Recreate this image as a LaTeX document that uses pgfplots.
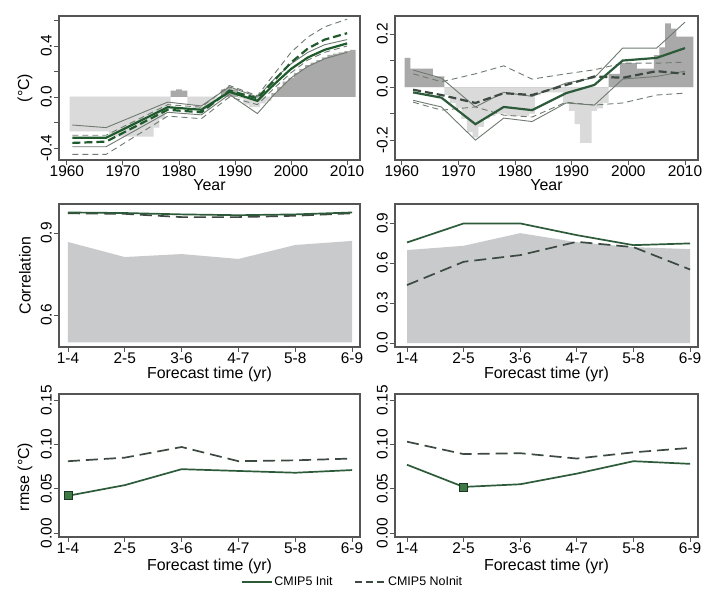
\documentclass[border=0pt]{standalone}
\usepackage{fontspec}
\setmainfont{Liberation Sans}
\usepackage{pgfplots}
\usepackage{pgfplotstable}
\pgfplotsset{compat=1.18}
\definecolor{boxcol}{HTML}{555555}
\definecolor{lightbar}{HTML}{DADADA}
\definecolor{darkbar}{HTML}{A9A9A9}
\definecolor{areagray}{HTML}{C8CACC}
\definecolor{initcol}{HTML}{2D5B3A}
\definecolor{noinitcol}{HTML}{3D4A41}
\definecolor{meangreen}{HTML}{1F5A2C}
\definecolor{spreadcol}{HTML}{6F7A70}
\definecolor{sqfill}{HTML}{3D7A45}

% observed annual anomalies, bar left edges (ybar interval)
\pgfplotstableread{
x pos neg
1960.5 0 -0.27
1961.5 0 -0.27
1962.5 0 -0.27
1963.5 0 -0.27
1964.5 0 -0.27
1965.5 0 -0.27
1966.5 0 -0.27
1967.5 0 -0.31
1968.5 0 -0.31
1969.5 0 -0.31
1970.5 0 -0.31
1971.5 0 -0.31
1972.5 0 -0.31
1973.5 0 -0.31
1974.5 0 -0.31
1975.5 0 -0.24
1976.5 0 -0.17
1977.5 0 -0.09
1978.5 0.05 0
1979.5 0.06 0
1980.5 0.05 0
1981.5 0 -0.06
1982.5 0 -0.09
1983.5 0 -0.11
1984.5 0 -0.10
1985.5 0 -0.06
1986.5 0 -0.01
1987.5 0.06 0
1988.5 0.08 0
1989.5 0.06 0
1990.5 0 -0.01
1991.5 0 -0.06
1992.5 0 -0.08
1993.5 0 -0.08
1994.5 0 -0.05
1995.5 0 -0.03
1996.5 0.03 0
1997.5 0.08 0
1998.5 0.12 0
1999.5 0.15 0
2000.5 0.19 0
2001.5 0.22 0
2002.5 0.25 0
2003.5 0.27 0
2004.5 0.29 0
2005.5 0.31 0
2006.5 0.33 0
2007.5 0.34 0
2008.5 0.35 0
2009.5 0.36 0
2010.5 0.37 0
2011.5 0 0
}\obsA

\pgfplotstableread{
x pos neg
1960.5 0.11 0
1961.5 0.07 0
1962.5 0.07 0
1963.5 0.07 0
1964.5 0.07 0
1965.5 0.04 0
1966.5 0.04 0
1967.5 0 -0.03
1968.5 0 -0.06
1969.5 0 -0.08
1970.5 0 -0.12
1971.5 0 -0.17
1972.5 0 -0.19
1973.5 0 -0.15
1974.5 0 -0.12
1975.5 0 -0.11
1976.5 0 -0.10
1977.5 0 -0.10
1978.5 0 -0.11
1979.5 0 -0.11
1980.5 0 -0.11
1981.5 0 -0.11
1982.5 0 -0.10
1983.5 0 -0.03
1984.5 0 -0.02
1985.5 0 -0.02
1986.5 0 -0.02
1987.5 0 -0.02
1988.5 0 -0.06
1989.5 0 -0.09
1990.5 0 -0.14
1991.5 0 -0.21
1992.5 0 -0.21
1993.5 0 -0.09
1994.5 0 -0.08
1995.5 0 -0.06
1996.5 0.05 0
1997.5 0.05 0
1998.5 0.09 0
1999.5 0.09 0
2000.5 0.09 0
2001.5 0.07 0
2002.5 0.07 0
2003.5 0.07 0
2004.5 0.12 0
2005.5 0.15 0
2006.5 0.24 0
2007.5 0.22 0
2008.5 0.19 0
2009.5 0.19 0
2010.5 0.19 0
2011.5 0 0
}\obsB

% hindcast lines: ensemble means and spread
\pgfplotstableread{
year initm noinitm initup initlo noup nolo
1961 -0.32 -0.36 -0.22 -0.39 -0.30 -0.45
1967 -0.32 -0.35 -0.24 -0.39 -0.30 -0.45
1978 -0.08 -0.10 -0.04 -0.12 -0.06 -0.15
1984 -0.10 -0.12 -0.07 -0.14 -0.08 -0.17
1989 0.04 0.05 0.08 0.02 0.09 0.00
1994 -0.03 -0.01 0.00 -0.13 0.01 -0.06
1997 0.10 0.13 0.14 0.02 0.18 0.07
2000 0.22 0.27 0.26 0.15 0.35 0.19
2003 0.31 0.38 0.35 0.24 0.47 0.29
2006 0.37 0.45 0.41 0.30 0.55 0.35
2010 0.42 0.50 0.45 0.35 0.61 0.40
}\linesA

\pgfplotstableread{
year initm noinitm initup initlo noup nolo
1962 -0.02 -0.01 0.064 -0.05 0.05 -0.057
1967 -0.04 -0.03 0.034 -0.075 0.02 -0.087
1973 -0.14 -0.06 -0.075 -0.20 0.05 -0.075
1978 -0.075 -0.023 -0.02 -0.117 0.08 -0.106
1983 -0.087 -0.03 -0.035 -0.13 0.03 -0.113
1989 -0.023 0.008 0.015 -0.06 0.05 -0.057
1994 0.008 0.04 0.035 -0.068 0.065 -0.068
1999 0.10 0.035 0.147 0.03 0.09 -0.06
2005 0.11 0.06 0.147 0.04 0.09 -0.03
2010 0.147 0.05 0.245 0.06 0.094 -0.023
}\linesB

% skill by forecast time (0 = 1-4 ... 5 = 6-9)
\pgfplotstableread{
lt area
0 0.5
0 0.867
1 0.812
2 0.823
3 0.805
4 0.856
5 0.871
5 0.5
}\areaA

\pgfplotstableread{
lt init noinit
0 0.975 0.972
1 0.973 0.970
2 0.968 0.958
3 0.965 0.958
4 0.968 0.963
5 0.975 0.972
}\corrA

\pgfplotstableread{
lt area
0 0.0
0 0.698
1 0.730
2 0.825
3 0.757
4 0.720
5 0.705
5 0.0
}\areaB

\pgfplotstableread{
lt init noinit
0 0.755 0.435
1 0.898 0.610
2 0.898 0.660
3 0.810 0.760
4 0.735 0.720
5 0.748 0.552
}\corrB

\pgfplotstableread{
lt init noinit
0 0.042 0.081
1 0.054 0.085
2 0.072 0.097
3 0.070 0.081
4 0.068 0.082
5 0.071 0.084
}\rmseA

\pgfplotstableread{
lt init noinit
0 0.077 0.103
1 0.052 0.089
2 0.055 0.090
3 0.067 0.084
4 0.081 0.091
5 0.078 0.096
}\rmseB

\pgfplotsset{
  rpanel/.style={
    scale only axis, anchor=south west,
    axis line style={draw=boxcol, line width=1.2bp},
    tick style={draw=boxcol, line width=0.9bp},
    tick align=outside, major tick length=5bp,
    xtick pos=left, ytick pos=left,
    minor tick num=0,
    tick label style={font=\fontsize{15.5}{15.5}\selectfont},
    label style={font=\fontsize{16}{16}\selectfont, inner sep=0pt},
    xticklabel style={inner sep=1bp},
    yticklabel style={rotate=90, anchor=south, inner sep=2bp},
    ylabel style={at={(axis description cs:-0.113,0.5)}, anchor=center},
  },
  yearrow/.style={
    xmin=1958.6, xmax=2012.3, height=144bp,
    xtick={1960,1970,1980,1990,2000,2010},
    xticklabels={1960,1970,1980,1990,2000,2010},
    xlabel={Year},
    xlabel style={at={(axis description cs:0.5,-0.172)}, anchor=center},
  },
  catrow/.style={
    height=143bp,
    xtick={0,1,2,3,4,5},
    xticklabels={1-4,2-5,3-6,4-7,5-8,6-9},
    xlabel={Forecast time (yr)},
  },
  leftcol/.style={width=301bp},
  rightcol/.style={width=303bp},
  initline/.style={initcol, line width=1.7bp, solid},
  noinitline/.style={noinitcol, line width=1.7bp, dash pattern=on 12bp off 6bp},
}

\begin{document}
\begin{tikzpicture}
\useasboundingbox (0,0) rectangle (702bp,599bp);
\fill[white] (0,0) rectangle (702bp,599bp);

% ---- row 1, left
\begin{axis}[rpanel, yearrow, leftcol, at={(59bp,439bp)},
  ymin=-0.494, ymax=0.635,
  ytick={-0.4,-0.2,0,0.2,0.4,0.6},
  yticklabels={-0.4,,0.0,,0.4,},
  ylabel={(°C)}]
\addplot[ybar interval, fill=lightbar, draw=none] table[x=x, y=neg] {\obsA};
\addplot[ybar interval, fill=darkbar, draw=none] table[x=x, y=pos] {\obsA};
\addplot[spreadcol, line width=0.9bp, dash pattern=on 6bp off 4bp] table[x=year, y=noup] {\linesA};
\addplot[spreadcol, line width=0.9bp, dash pattern=on 6bp off 4bp] table[x=year, y=nolo] {\linesA};
\addplot[spreadcol, line width=0.9bp] table[x=year, y=initup] {\linesA};
\addplot[spreadcol, line width=0.9bp] table[x=year, y=initlo] {\linesA};
\addplot[meangreen, line width=2.2bp, dash pattern=on 8bp off 4bp] table[x=year, y=noinitm] {\linesA};
\addplot[meangreen, line width=2.2bp] table[x=year, y=initm] {\linesA};
\end{axis}

% ---- row 1, right
\begin{axis}[rpanel, yearrow, rightcol, at={(395bp,439bp)},
  xmin=1958.8, xmax=2012.3,
  ymin=-0.275, ymax=0.268,
  ytick={-0.2,-0.1,0,0.1,0.2},
  yticklabels={-0.2,,0.0,,0.2}]
\addplot[ybar interval, fill=lightbar, draw=none] table[x=x, y=neg] {\obsB};
\addplot[ybar interval, fill=darkbar, draw=none] table[x=x, y=pos] {\obsB};
\addplot[spreadcol, line width=0.9bp, dash pattern=on 6bp off 4bp] table[x=year, y=noup] {\linesB};
\addplot[spreadcol, line width=0.9bp, dash pattern=on 6bp off 4bp] table[x=year, y=nolo] {\linesB};
\addplot[spreadcol, line width=0.9bp] table[x=year, y=initup] {\linesB};
\addplot[spreadcol, line width=0.9bp] table[x=year, y=initlo] {\linesB};
\addplot[noinitcol, line width=2.2bp, dash pattern=on 8bp off 4bp] table[x=year, y=noinitm] {\linesB};
\addplot[initcol, line width=2.2bp] table[x=year, y=initm] {\linesB};
\end{axis}

% ---- row 2, left
\begin{axis}[rpanel, catrow, leftcol, at={(59bp,252bp)},
  xmin=-0.158, xmax=5.14, ymin=0.483, ymax=1.006,
  ytick={0.6,0.9}, yticklabels={0.6,0.9},
  ylabel={Correlation},
  xlabel style={at={(axis description cs:0.5,-0.192)}, anchor=center}]
\addplot[fill=areagray, draw=none] table[x=lt, y=area] {\areaA};
\addplot[noinitline] table[x=lt, y=noinit] {\corrA};
\addplot[initline] table[x=lt, y=init] {\corrA};
\end{axis}

% ---- row 2, right
\begin{axis}[rpanel, catrow, rightcol, at={(395bp,252bp)},
  xmin=-0.212, xmax=5.14, ymin=-0.03, ymax=1.044,
  ytick={0,0.3,0.6,0.9}, yticklabels={0.0,0.3,0.6,0.9},
  xlabel style={at={(axis description cs:0.5,-0.192)}, anchor=center}]
\addplot[fill=areagray, draw=none] table[x=lt, y=area] {\areaB};
\addplot[noinitline] table[x=lt, y=noinit] {\corrB};
\addplot[initline] table[x=lt, y=init] {\corrB};
\end{axis}

% ---- row 3, left
\begin{axis}[rpanel, catrow, leftcol, at={(59bp,62bp)},
  xmin=-0.158, xmax=5.14, ymin=-0.0045, ymax=0.1568,
  ytick={0,0.05,0.1,0.15}, yticklabels={0.00,0.05,0.10,0.15},
  ylabel={rmse (°C)},
  ylabel style={at={(axis description cs:-0.113,0.42)}},
  xlabel style={at={(axis description cs:0.5,-0.208)}, anchor=center},
  legend style={at={(axis description cs:0.975,-0.315)}, anchor=center,
    draw=none, fill=none, legend columns=2,
    font=\fontsize{12.5}{12.5}\selectfont,
    /tikz/every odd column/.append style={column sep=0bp},
    /tikz/every even column/.append style={column sep=20bp}},
  legend image code/.code={\draw[#1] (0bp,0bp) -- (30bp,0bp);}]
\addplot[noinitline, forget plot] table[x=lt, y=noinit] {\rmseA};
\addplot[initline, forget plot] table[x=lt, y=init] {\rmseA};
\addplot[only marks, mark=square*, mark size=4bp, mark options={fill=sqfill, draw=initcol!60!black, line width=0.8bp}, forget plot] coordinates {(0,0.042)};
\addlegendimage{initcol, line width=1.6bp, solid}
\addlegendentry{CMIP5 Init}
\addlegendimage{noinitcol, line width=1.6bp, dash pattern=on 7bp off 4bp}
\addlegendentry{CMIP5 NoInit}
\end{axis}

% ---- row 3, right
\begin{axis}[rpanel, catrow, rightcol, at={(395bp,62bp)},
  xmin=-0.212, xmax=5.14, ymin=-0.0045, ymax=0.1568,
  ytick={0,0.05,0.1,0.15}, yticklabels={0.00,0.05,0.10,0.15},
  xlabel style={at={(axis description cs:0.5,-0.208)}, anchor=center}]
\addplot[noinitline] table[x=lt, y=noinit] {\rmseB};
\addplot[initline] table[x=lt, y=init] {\rmseB};
\addplot[only marks, mark=square*, mark size=4bp, mark options={fill=sqfill, draw=initcol!60!black, line width=0.8bp}] coordinates {(1,0.052)};
\end{axis}
\end{tikzpicture}
\end{document}
